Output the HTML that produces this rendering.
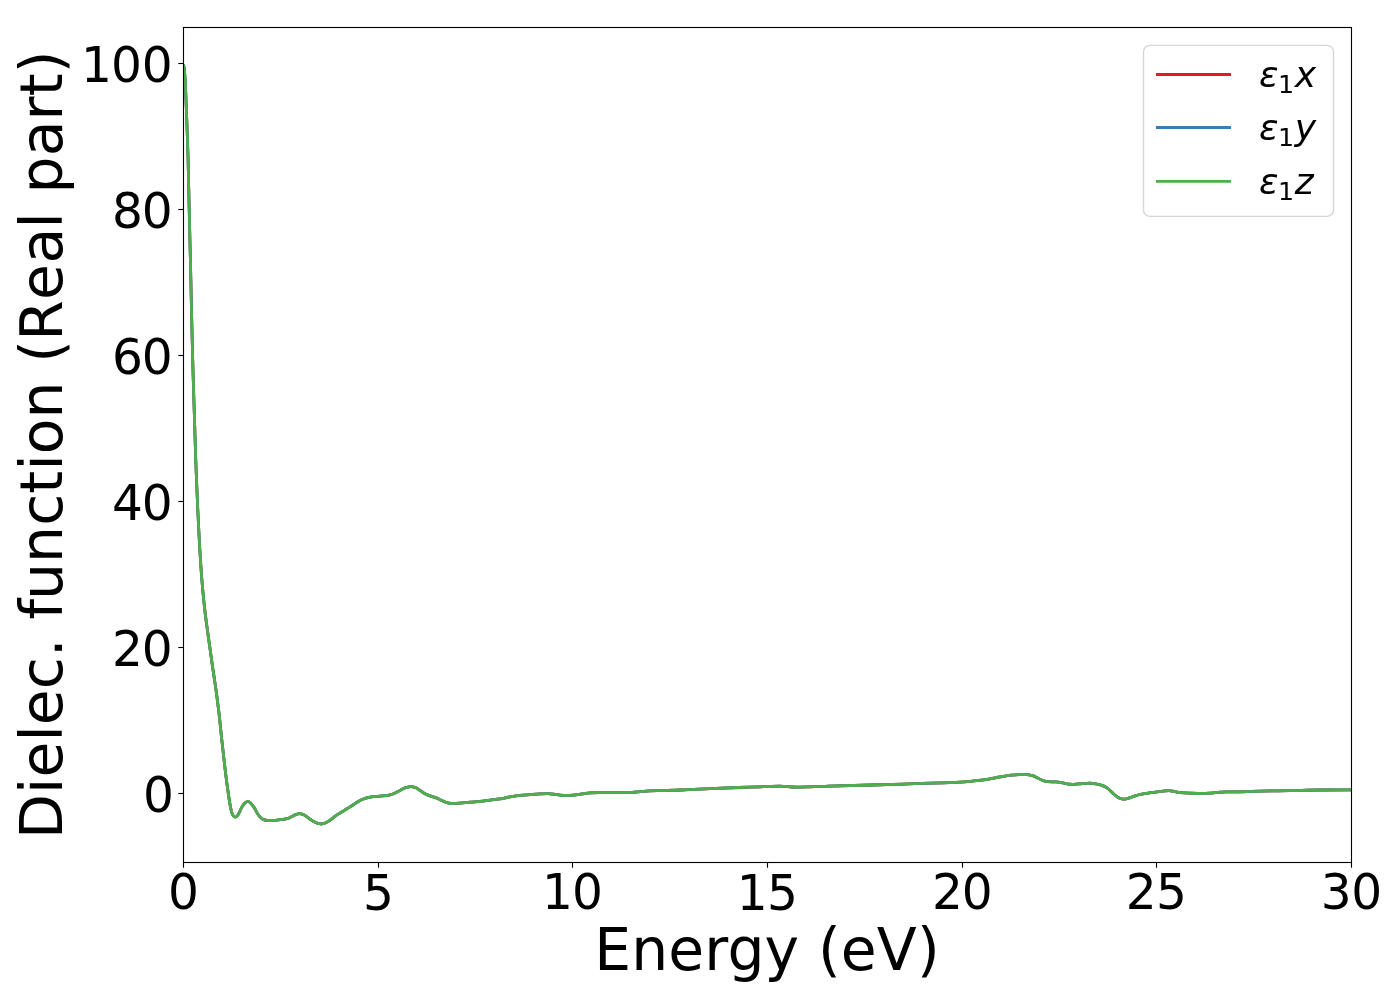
<!DOCTYPE html>
<html lang="en"><head><meta charset="utf-8"><title>Dielectric function (Real part)</title>
<style>
html,body{margin:0;padding:0;background:#fff;}
body{width:1400px;height:1000px;overflow:hidden;}
svg{display:block;}
text{font-family:"DejaVu Sans","Liberation Sans",sans-serif;fill:#000;}
.tk{font-size:49.95px;}
.lb{font-size:58.33px;letter-spacing:0.14px;}
.lg{font-size:36.11px;font-style:oblique;}
.sb{font-size:25.28px;font-style:normal;}
.sp{stroke:#000;stroke-width:1.11;fill:none;}
.ln{fill:none;stroke-width:2.78;stroke-linejoin:round;stroke-linecap:butt;}
</style></head><body>
<svg width="1400" height="1000" viewBox="0 0 1400 1000">
<rect x="0" y="0" width="1400" height="1000" fill="#fff"/>
<defs><clipPath id="ax"><rect x="183.5" y="27.5" width="1168" height="835"/></clipPath></defs>
<g clip-path="url(#ax)">
<path class="ln" stroke="#e41a1c" d="M182.2 65.15C182.74 65.15 183.46 65.22 183.6 65.3C184.29 65.67 184.4 69.76 184.6 72C184.99 76.31 185.18 80.66 185.4 85C185.81 93.33 186.08 101.67 186.4 110C186.72 118.33 187.02 126.67 187.3 135C187.58 143.33 187.88 151.67 188.1 160C188.54 176.66 188.82 193.33 189.2 210C189.58 226.67 190.02 243.33 190.4 260C190.78 276.67 191.12 293.33 191.5 310C191.88 326.67 192.26 343.33 192.7 360C193.14 376.67 193.69 393.33 194.2 410C194.71 426.67 195.16 443.34 195.75 460C196.34 476.67 197.03 493.34 197.8 510C198.57 526.67 199.4 543.35 200.45 560C200.97 568.34 201.59 576.68 202.3 585C203.01 593.34 203.86 601.68 204.8 610C205.67 617.68 206.75 625.34 207.8 633C208.12 635.33 208.47 637.67 208.8 640C209.98 648.33 211.1 656.67 212.3 665C213.5 673.34 214.85 681.66 216 690C217.14 698.32 218.24 706.66 219.2 715C220.16 723.32 220.89 731.67 221.8 740C222.34 745 222.93 750 223.5 755C224.26 761.67 224.97 768.34 225.8 775C226.51 780.67 227.28 786.34 228.1 792C228.73 796.34 229.31 800.69 230.1 805C230.55 807.48 230.97 810.03 231.7 812.4C232.07 813.6 232.57 815.06 233.3 815.9C233.77 816.44 234.71 817.2 235.4 817.2C236.04 817.2 236.81 816.42 237.3 815.9C238.15 815 238.67 813.58 239.3 812.4C240.26 810.6 240.96 808.62 242 806.9C242.85 805.49 243.78 803.82 245 802.9C245.84 802.26 247.11 801.4 248.1 801.4C248.93 801.4 249.8 802.39 250.5 803C251.86 804.19 252.95 805.86 254 807.4C255.29 809.3 256.24 811.46 257.5 813.4C258.28 814.6 259.05 815.87 260 816.9C260.86 817.83 261.89 818.94 263 819.4C264.18 819.89 265.65 820.29 267 820.4C268.31 820.51 269.67 820.6 271 820.6C273 820.6 275 820.29 277 820.1C279 819.91 281.01 819.7 283 819.4C284.68 819.15 286.41 818.87 288 818.4C289.39 817.99 290.67 817.07 292 816.4C293.33 815.73 294.61 814.84 296 814.4C297.12 814.05 298.33 813.6 299.5 813.6C300.67 813.6 301.91 814.03 303 814.4C304.43 814.88 305.71 816.02 307 816.9C308.37 817.84 309.61 818.99 311 819.9C312.28 820.74 313.61 821.59 315 822.2C316.28 822.76 317.63 823.31 319 823.6C319.82 823.78 320.67 824 321.5 824C322.68 824 323.89 823.49 325 823.1C326.4 822.61 327.73 821.71 329 820.9C330.39 820.01 331.67 818.9 333 817.9C334.33 816.9 335.63 815.84 337 814.9C338.93 813.58 341 812.44 343 811.2C344.34 810.37 345.66 809.52 347 808.7C347.99 808.09 349.01 807.52 350 806.9C351.69 805.84 353.31 804.66 355 803.6C356.64 802.57 358.28 801.48 360 800.6C361.61 799.78 363.29 798.96 365 798.4C366.62 797.87 368.31 797.35 370 797.1C371.64 796.86 373.33 796.75 375 796.6C376.67 796.45 378.33 796.35 380 796.2C381.67 796.05 383.34 795.9 385 795.7C386.67 795.49 388.38 795.27 390 794.9C391.72 794.5 393.36 793.63 395 792.9C396.7 792.14 398.33 791.23 400 790.4C401.67 789.57 403.26 788.48 405 787.9C406.28 787.47 407.65 787.09 409 786.9C409.66 786.81 410.34 786.7 411 786.7C412.34 786.7 413.75 787.06 415 787.4C416.79 787.89 418.36 789.37 420 790.4C421.69 791.46 423.26 792.77 425 793.7C426.59 794.55 428.3 795.29 430 795.9C431.63 796.48 433.38 796.81 435 797.4C436.71 798.02 438.33 798.95 440 799.7C441.66 800.45 443.29 801.29 445 801.9C446.3 802.36 447.64 802.94 449 803.1C450.31 803.26 451.67 803.4 453 803.4C455.33 803.4 457.67 803.24 460 803.1C463.34 802.9 466.66 802.37 470 802.1C473.33 801.83 476.68 801.7 480 801.4C483.34 801.1 486.66 800.52 490 800.1C493.33 799.68 496.69 799.4 500 798.9C503.35 798.4 506.65 797.47 510 796.9C513.32 796.33 516.65 795.75 520 795.4C523.32 795.05 526.67 794.85 530 794.6C533.33 794.35 536.66 794.07 540 793.9C542.5 793.77 545 793.6 547.5 793.6C549.67 793.6 551.85 793.87 554 794.1C556.01 794.31 557.99 794.96 560 795.1C562.32 795.26 564.67 795.4 567 795.4C569.33 795.4 571.68 795.19 574 795C576.68 794.79 579.33 794.25 582 793.9C584.66 793.55 587.32 793.03 590 792.9C593.32 792.74 596.67 792.6 600 792.6C603.33 792.6 606.67 792.7 610 792.7C616.67 792.7 623.35 792.62 630 792.5C636.68 792.38 643.32 791.08 650 790.8C660.32 790.38 670.67 790.34 681 790C690.67 789.68 700.33 789.12 710 788.7C719.53 788.29 729.06 787.85 738.6 787.5C745.73 787.24 752.87 787.04 760 786.8C766.67 786.57 773.34 786.1 780 786.1C785.24 786.1 790.46 787.1 795.7 787.1C800.46 787.1 805.23 786.93 810 786.8C816.2 786.63 822.4 786.29 828.6 786.1C842.86 785.65 857.13 785.4 871.4 785C885.7 784.6 900 784.14 914.3 783.7C923.83 783.41 933.37 783.16 942.9 782.8C950.04 782.53 957.18 782.26 964.3 781.8C969.07 781.49 973.85 780.95 978.6 780.4C982.41 779.96 986.22 779.41 990 778.8C993.35 778.26 996.66 777.47 1000 776.9C1003.66 776.28 1007.32 775.57 1011 775.2C1013.66 774.94 1016.33 774.6 1019 774.6C1021.66 774.6 1024.36 774.6 1027 774.6C1028.85 774.6 1030.74 775.13 1032.5 775.6C1034.41 776.11 1036.16 777.35 1038 778.2C1039.99 779.12 1041.92 780.34 1044 780.9C1045.13 781.21 1046.32 781.52 1047.5 781.6C1050.3 781.79 1053.18 781.74 1056 781.9C1058.68 782.06 1061.33 782.76 1064 783.2C1066 783.53 1067.99 784.05 1070 784.2C1071.33 784.3 1072.67 784.4 1074 784.4C1076.67 784.4 1079.33 783.78 1082 783.6C1084.66 783.42 1087.34 783.2 1090 783.2C1092.01 783.2 1094.02 783.58 1096 783.9C1098.02 784.22 1100.08 784.75 1102 785.4C1103.73 785.99 1105.48 786.91 1107 787.9C1108.83 789.09 1110.32 790.91 1112 792.4C1113.33 793.58 1114.6 794.84 1116 795.9C1116.95 796.62 1117.93 797.45 1119 797.9C1120.39 798.49 1121.98 799.2 1123.5 799.2C1124.98 799.2 1126.53 798.74 1128 798.4C1130.39 797.84 1132.63 796.6 1135 795.9C1137.63 795.12 1140.31 794.43 1143 793.9C1145.64 793.38 1148.33 792.98 1151 792.6C1153.66 792.22 1156.33 791.92 1159 791.6C1161 791.36 1162.99 791.04 1165 790.9C1166.33 790.81 1167.67 790.7 1169 790.7C1170.34 790.7 1171.67 791 1173 791.2C1175.35 791.55 1177.65 792.37 1180 792.6C1183.3 792.92 1186.66 793.08 1190 793.2C1194 793.34 1198 793.5 1202 793.5C1205 793.5 1208.01 793.28 1211 793.1C1214.01 792.91 1216.99 792.42 1220 792.2C1222.33 792.03 1224.66 791.8 1227 791.8C1231.33 791.8 1235.67 791.8 1240 791.8C1246.67 791.8 1253.33 791.25 1260 791.1C1270 790.87 1280 790.78 1290 790.6C1300 790.42 1310 790.1 1320 790C1330.5 789.9 1341 789.8 1351.5 789.8"/>
<path class="ln" stroke="#377eb8" d="M182.2 65.15C182.74 65.15 183.46 65.22 183.6 65.3C184.29 65.67 184.4 69.76 184.6 72C184.99 76.31 185.18 80.66 185.4 85C185.81 93.33 186.08 101.67 186.4 110C186.72 118.33 187.02 126.67 187.3 135C187.58 143.33 187.88 151.67 188.1 160C188.54 176.66 188.82 193.33 189.2 210C189.58 226.67 190.02 243.33 190.4 260C190.78 276.67 191.12 293.33 191.5 310C191.88 326.67 192.26 343.33 192.7 360C193.14 376.67 193.69 393.33 194.2 410C194.71 426.67 195.16 443.34 195.75 460C196.34 476.67 197.03 493.34 197.8 510C198.57 526.67 199.4 543.35 200.45 560C200.97 568.34 201.59 576.68 202.3 585C203.01 593.34 203.86 601.68 204.8 610C205.67 617.68 206.75 625.34 207.8 633C208.12 635.33 208.47 637.67 208.8 640C209.98 648.33 211.1 656.67 212.3 665C213.5 673.34 214.85 681.66 216 690C217.14 698.32 218.24 706.66 219.2 715C220.16 723.32 220.89 731.67 221.8 740C222.34 745 222.93 750 223.5 755C224.26 761.67 224.97 768.34 225.8 775C226.51 780.67 227.28 786.34 228.1 792C228.73 796.34 229.31 800.69 230.1 805C230.55 807.48 230.97 810.03 231.7 812.4C232.07 813.6 232.57 815.06 233.3 815.9C233.77 816.44 234.71 817.2 235.4 817.2C236.04 817.2 236.81 816.42 237.3 815.9C238.15 815 238.67 813.58 239.3 812.4C240.26 810.6 240.96 808.62 242 806.9C242.85 805.49 243.78 803.82 245 802.9C245.84 802.26 247.11 801.4 248.1 801.4C248.93 801.4 249.8 802.39 250.5 803C251.86 804.19 252.95 805.86 254 807.4C255.29 809.3 256.24 811.46 257.5 813.4C258.28 814.6 259.05 815.87 260 816.9C260.86 817.83 261.89 818.94 263 819.4C264.18 819.89 265.65 820.29 267 820.4C268.31 820.51 269.67 820.6 271 820.6C273 820.6 275 820.29 277 820.1C279 819.91 281.01 819.7 283 819.4C284.68 819.15 286.41 818.87 288 818.4C289.39 817.99 290.67 817.07 292 816.4C293.33 815.73 294.61 814.84 296 814.4C297.12 814.05 298.33 813.6 299.5 813.6C300.67 813.6 301.91 814.03 303 814.4C304.43 814.88 305.71 816.02 307 816.9C308.37 817.84 309.61 818.99 311 819.9C312.28 820.74 313.61 821.59 315 822.2C316.28 822.76 317.63 823.31 319 823.6C319.82 823.78 320.67 824 321.5 824C322.68 824 323.89 823.49 325 823.1C326.4 822.61 327.73 821.71 329 820.9C330.39 820.01 331.67 818.9 333 817.9C334.33 816.9 335.63 815.84 337 814.9C338.93 813.58 341 812.44 343 811.2C344.34 810.37 345.66 809.52 347 808.7C347.99 808.09 349.01 807.52 350 806.9C351.69 805.84 353.31 804.66 355 803.6C356.64 802.57 358.28 801.48 360 800.6C361.61 799.78 363.29 798.96 365 798.4C366.62 797.87 368.31 797.35 370 797.1C371.64 796.86 373.33 796.75 375 796.6C376.67 796.45 378.33 796.35 380 796.2C381.67 796.05 383.34 795.9 385 795.7C386.67 795.49 388.38 795.27 390 794.9C391.72 794.5 393.36 793.63 395 792.9C396.7 792.14 398.33 791.23 400 790.4C401.67 789.57 403.26 788.48 405 787.9C406.28 787.47 407.65 787.09 409 786.9C409.66 786.81 410.34 786.7 411 786.7C412.34 786.7 413.75 787.06 415 787.4C416.79 787.89 418.36 789.37 420 790.4C421.69 791.46 423.26 792.77 425 793.7C426.59 794.55 428.3 795.29 430 795.9C431.63 796.48 433.38 796.81 435 797.4C436.71 798.02 438.33 798.95 440 799.7C441.66 800.45 443.29 801.29 445 801.9C446.3 802.36 447.64 802.94 449 803.1C450.31 803.26 451.67 803.4 453 803.4C455.33 803.4 457.67 803.24 460 803.1C463.34 802.9 466.66 802.37 470 802.1C473.33 801.83 476.68 801.7 480 801.4C483.34 801.1 486.66 800.52 490 800.1C493.33 799.68 496.69 799.4 500 798.9C503.35 798.4 506.65 797.47 510 796.9C513.32 796.33 516.65 795.75 520 795.4C523.32 795.05 526.67 794.85 530 794.6C533.33 794.35 536.66 794.07 540 793.9C542.5 793.77 545 793.6 547.5 793.6C549.67 793.6 551.85 793.87 554 794.1C556.01 794.31 557.99 794.96 560 795.1C562.32 795.26 564.67 795.4 567 795.4C569.33 795.4 571.68 795.19 574 795C576.68 794.79 579.33 794.25 582 793.9C584.66 793.55 587.32 793.03 590 792.9C593.32 792.74 596.67 792.6 600 792.6C603.33 792.6 606.67 792.7 610 792.7C616.67 792.7 623.35 792.62 630 792.5C636.68 792.38 643.32 791.08 650 790.8C660.32 790.38 670.67 790.34 681 790C690.67 789.68 700.33 789.12 710 788.7C719.53 788.29 729.06 787.85 738.6 787.5C745.73 787.24 752.87 787.04 760 786.8C766.67 786.57 773.34 786.1 780 786.1C785.24 786.1 790.46 787.1 795.7 787.1C800.46 787.1 805.23 786.93 810 786.8C816.2 786.63 822.4 786.29 828.6 786.1C842.86 785.65 857.13 785.4 871.4 785C885.7 784.6 900 784.14 914.3 783.7C923.83 783.41 933.37 783.16 942.9 782.8C950.04 782.53 957.18 782.26 964.3 781.8C969.07 781.49 973.85 780.95 978.6 780.4C982.41 779.96 986.22 779.41 990 778.8C993.35 778.26 996.66 777.47 1000 776.9C1003.66 776.28 1007.32 775.57 1011 775.2C1013.66 774.94 1016.33 774.6 1019 774.6C1021.66 774.6 1024.36 774.6 1027 774.6C1028.85 774.6 1030.74 775.13 1032.5 775.6C1034.41 776.11 1036.16 777.35 1038 778.2C1039.99 779.12 1041.92 780.34 1044 780.9C1045.13 781.21 1046.32 781.52 1047.5 781.6C1050.3 781.79 1053.18 781.74 1056 781.9C1058.68 782.06 1061.33 782.76 1064 783.2C1066 783.53 1067.99 784.05 1070 784.2C1071.33 784.3 1072.67 784.4 1074 784.4C1076.67 784.4 1079.33 783.78 1082 783.6C1084.66 783.42 1087.34 783.2 1090 783.2C1092.01 783.2 1094.02 783.58 1096 783.9C1098.02 784.22 1100.08 784.75 1102 785.4C1103.73 785.99 1105.48 786.91 1107 787.9C1108.83 789.09 1110.32 790.91 1112 792.4C1113.33 793.58 1114.6 794.84 1116 795.9C1116.95 796.62 1117.93 797.45 1119 797.9C1120.39 798.49 1121.98 799.2 1123.5 799.2C1124.98 799.2 1126.53 798.74 1128 798.4C1130.39 797.84 1132.63 796.6 1135 795.9C1137.63 795.12 1140.31 794.43 1143 793.9C1145.64 793.38 1148.33 792.98 1151 792.6C1153.66 792.22 1156.33 791.92 1159 791.6C1161 791.36 1162.99 791.04 1165 790.9C1166.33 790.81 1167.67 790.7 1169 790.7C1170.34 790.7 1171.67 791 1173 791.2C1175.35 791.55 1177.65 792.37 1180 792.6C1183.3 792.92 1186.66 793.08 1190 793.2C1194 793.34 1198 793.5 1202 793.5C1205 793.5 1208.01 793.28 1211 793.1C1214.01 792.91 1216.99 792.42 1220 792.2C1222.33 792.03 1224.66 791.8 1227 791.8C1231.33 791.8 1235.67 791.8 1240 791.8C1246.67 791.8 1253.33 791.25 1260 791.1C1270 790.87 1280 790.78 1290 790.6C1300 790.42 1310 790.1 1320 790C1330.5 789.9 1341 789.8 1351.5 789.8"/>
<path class="ln" stroke="#4daf4a" d="M182.2 65.15C182.74 65.15 183.46 65.22 183.6 65.3C184.29 65.67 184.4 69.76 184.6 72C184.99 76.31 185.18 80.66 185.4 85C185.81 93.33 186.08 101.67 186.4 110C186.72 118.33 187.02 126.67 187.3 135C187.58 143.33 187.88 151.67 188.1 160C188.54 176.66 188.82 193.33 189.2 210C189.58 226.67 190.02 243.33 190.4 260C190.78 276.67 191.12 293.33 191.5 310C191.88 326.67 192.26 343.33 192.7 360C193.14 376.67 193.69 393.33 194.2 410C194.71 426.67 195.16 443.34 195.75 460C196.34 476.67 197.03 493.34 197.8 510C198.57 526.67 199.4 543.35 200.45 560C200.97 568.34 201.59 576.68 202.3 585C203.01 593.34 203.86 601.68 204.8 610C205.67 617.68 206.75 625.34 207.8 633C208.12 635.33 208.47 637.67 208.8 640C209.98 648.33 211.1 656.67 212.3 665C213.5 673.34 214.85 681.66 216 690C217.14 698.32 218.24 706.66 219.2 715C220.16 723.32 220.89 731.67 221.8 740C222.34 745 222.93 750 223.5 755C224.26 761.67 224.97 768.34 225.8 775C226.51 780.67 227.28 786.34 228.1 792C228.73 796.34 229.31 800.69 230.1 805C230.55 807.48 230.97 810.03 231.7 812.4C232.07 813.6 232.57 815.06 233.3 815.9C233.77 816.44 234.71 817.2 235.4 817.2C236.04 817.2 236.81 816.42 237.3 815.9C238.15 815 238.67 813.58 239.3 812.4C240.26 810.6 240.96 808.62 242 806.9C242.85 805.49 243.78 803.82 245 802.9C245.84 802.26 247.11 801.4 248.1 801.4C248.93 801.4 249.8 802.39 250.5 803C251.86 804.19 252.95 805.86 254 807.4C255.29 809.3 256.24 811.46 257.5 813.4C258.28 814.6 259.05 815.87 260 816.9C260.86 817.83 261.89 818.94 263 819.4C264.18 819.89 265.65 820.29 267 820.4C268.31 820.51 269.67 820.6 271 820.6C273 820.6 275 820.29 277 820.1C279 819.91 281.01 819.7 283 819.4C284.68 819.15 286.41 818.87 288 818.4C289.39 817.99 290.67 817.07 292 816.4C293.33 815.73 294.61 814.84 296 814.4C297.12 814.05 298.33 813.6 299.5 813.6C300.67 813.6 301.91 814.03 303 814.4C304.43 814.88 305.71 816.02 307 816.9C308.37 817.84 309.61 818.99 311 819.9C312.28 820.74 313.61 821.59 315 822.2C316.28 822.76 317.63 823.31 319 823.6C319.82 823.78 320.67 824 321.5 824C322.68 824 323.89 823.49 325 823.1C326.4 822.61 327.73 821.71 329 820.9C330.39 820.01 331.67 818.9 333 817.9C334.33 816.9 335.63 815.84 337 814.9C338.93 813.58 341 812.44 343 811.2C344.34 810.37 345.66 809.52 347 808.7C347.99 808.09 349.01 807.52 350 806.9C351.69 805.84 353.31 804.66 355 803.6C356.64 802.57 358.28 801.48 360 800.6C361.61 799.78 363.29 798.96 365 798.4C366.62 797.87 368.31 797.35 370 797.1C371.64 796.86 373.33 796.75 375 796.6C376.67 796.45 378.33 796.35 380 796.2C381.67 796.05 383.34 795.9 385 795.7C386.67 795.49 388.38 795.27 390 794.9C391.72 794.5 393.36 793.63 395 792.9C396.7 792.14 398.33 791.23 400 790.4C401.67 789.57 403.26 788.48 405 787.9C406.28 787.47 407.65 787.09 409 786.9C409.66 786.81 410.34 786.7 411 786.7C412.34 786.7 413.75 787.06 415 787.4C416.79 787.89 418.36 789.37 420 790.4C421.69 791.46 423.26 792.77 425 793.7C426.59 794.55 428.3 795.29 430 795.9C431.63 796.48 433.38 796.81 435 797.4C436.71 798.02 438.33 798.95 440 799.7C441.66 800.45 443.29 801.29 445 801.9C446.3 802.36 447.64 802.94 449 803.1C450.31 803.26 451.67 803.4 453 803.4C455.33 803.4 457.67 803.24 460 803.1C463.34 802.9 466.66 802.37 470 802.1C473.33 801.83 476.68 801.7 480 801.4C483.34 801.1 486.66 800.52 490 800.1C493.33 799.68 496.69 799.4 500 798.9C503.35 798.4 506.65 797.47 510 796.9C513.32 796.33 516.65 795.75 520 795.4C523.32 795.05 526.67 794.85 530 794.6C533.33 794.35 536.66 794.07 540 793.9C542.5 793.77 545 793.6 547.5 793.6C549.67 793.6 551.85 793.87 554 794.1C556.01 794.31 557.99 794.96 560 795.1C562.32 795.26 564.67 795.4 567 795.4C569.33 795.4 571.68 795.19 574 795C576.68 794.79 579.33 794.25 582 793.9C584.66 793.55 587.32 793.03 590 792.9C593.32 792.74 596.67 792.6 600 792.6C603.33 792.6 606.67 792.7 610 792.7C616.67 792.7 623.35 792.62 630 792.5C636.68 792.38 643.32 791.08 650 790.8C660.32 790.38 670.67 790.34 681 790C690.67 789.68 700.33 789.12 710 788.7C719.53 788.29 729.06 787.85 738.6 787.5C745.73 787.24 752.87 787.04 760 786.8C766.67 786.57 773.34 786.1 780 786.1C785.24 786.1 790.46 787.1 795.7 787.1C800.46 787.1 805.23 786.93 810 786.8C816.2 786.63 822.4 786.29 828.6 786.1C842.86 785.65 857.13 785.4 871.4 785C885.7 784.6 900 784.14 914.3 783.7C923.83 783.41 933.37 783.16 942.9 782.8C950.04 782.53 957.18 782.26 964.3 781.8C969.07 781.49 973.85 780.95 978.6 780.4C982.41 779.96 986.22 779.41 990 778.8C993.35 778.26 996.66 777.47 1000 776.9C1003.66 776.28 1007.32 775.57 1011 775.2C1013.66 774.94 1016.33 774.6 1019 774.6C1021.66 774.6 1024.36 774.6 1027 774.6C1028.85 774.6 1030.74 775.13 1032.5 775.6C1034.41 776.11 1036.16 777.35 1038 778.2C1039.99 779.12 1041.92 780.34 1044 780.9C1045.13 781.21 1046.32 781.52 1047.5 781.6C1050.3 781.79 1053.18 781.74 1056 781.9C1058.68 782.06 1061.33 782.76 1064 783.2C1066 783.53 1067.99 784.05 1070 784.2C1071.33 784.3 1072.67 784.4 1074 784.4C1076.67 784.4 1079.33 783.78 1082 783.6C1084.66 783.42 1087.34 783.2 1090 783.2C1092.01 783.2 1094.02 783.58 1096 783.9C1098.02 784.22 1100.08 784.75 1102 785.4C1103.73 785.99 1105.48 786.91 1107 787.9C1108.83 789.09 1110.32 790.91 1112 792.4C1113.33 793.58 1114.6 794.84 1116 795.9C1116.95 796.62 1117.93 797.45 1119 797.9C1120.39 798.49 1121.98 799.2 1123.5 799.2C1124.98 799.2 1126.53 798.74 1128 798.4C1130.39 797.84 1132.63 796.6 1135 795.9C1137.63 795.12 1140.31 794.43 1143 793.9C1145.64 793.38 1148.33 792.98 1151 792.6C1153.66 792.22 1156.33 791.92 1159 791.6C1161 791.36 1162.99 791.04 1165 790.9C1166.33 790.81 1167.67 790.7 1169 790.7C1170.34 790.7 1171.67 791 1173 791.2C1175.35 791.55 1177.65 792.37 1180 792.6C1183.3 792.92 1186.66 793.08 1190 793.2C1194 793.34 1198 793.5 1202 793.5C1205 793.5 1208.01 793.28 1211 793.1C1214.01 792.91 1216.99 792.42 1220 792.2C1222.33 792.03 1224.66 791.8 1227 791.8C1231.33 791.8 1235.67 791.8 1240 791.8C1246.67 791.8 1253.33 791.25 1260 791.1C1270 790.87 1280 790.78 1290 790.6C1300 790.42 1310 790.1 1320 790C1330.5 789.9 1341 789.8 1351.5 789.8"/>
</g>
<g class="sp">
<line x1="183.5" y1="862.5" x2="183.5" y2="867.7"/>
<line x1="378.5" y1="862.5" x2="378.5" y2="867.7"/>
<line x1="572.5" y1="862.5" x2="572.5" y2="867.7"/>
<line x1="767.5" y1="862.5" x2="767.5" y2="867.7"/>
<line x1="962.5" y1="862.5" x2="962.5" y2="867.7"/>
<line x1="1156.5" y1="862.5" x2="1156.5" y2="867.7"/>
<line x1="1351.5" y1="862.5" x2="1351.5" y2="867.7"/>
<line x1="178.3" y1="793.5" x2="183.5" y2="793.5"/>
<line x1="178.3" y1="647.5" x2="183.5" y2="647.5"/>
<line x1="178.3" y1="501.5" x2="183.5" y2="501.5"/>
<line x1="178.3" y1="355.5" x2="183.5" y2="355.5"/>
<line x1="178.3" y1="209.5" x2="183.5" y2="209.5"/>
<line x1="178.3" y1="63.5" x2="183.5" y2="63.5"/>
</g>
<g class="tk" text-anchor="middle" transform="scale(0.9732 1)">
<text x="188.55" y="909">0</text>
<text x="388.79" y="910">5</text>
<text x="588.15" y="909" dx="0 -0.92">10</text>
<text x="788.53" y="910" dx="0 -0.62">15</text>
<text x="988.87" y="909" dx="0 -1.03">20</text>
<text x="1188.18" y="909" dx="0 -0.82">25</text>
<text x="1388.72" y="909" dx="0 -0.62">30</text>
</g>
<g class="tk" text-anchor="end" transform="scale(0.9732 1)">
<text x="178.69" y="811.95">0</text>
<text x="177.56" y="665.93" dx="0 -1.13">20</text>
<text x="177.56" y="519.91" dx="0 -1.13">40</text>
<text x="177.56" y="373.89" dx="0 -1.13">60</text>
<text x="177.56" y="227.87" dx="0 -1.13">80</text>
<text x="177.56" y="81.85" dx="0 -1.13 0">100</text>
</g>
<text class="lb" text-anchor="middle" x="767" y="969.9">Energy (eV)</text>
<text class="lb" text-anchor="middle" transform="translate(62 444.7) rotate(-90)" dx="0 0 0 0 0 0 0 0 0 -1.2 0 0 0 0 0 0 0 0 -1 2.7 0.4 -0.9 0 0 0 0 0 0">Dielec. function (Real part)</text>
<rect class="sp" x="183.5" y="27.5" width="1168" height="835" stroke-linejoin="miter"/>
<rect x="1143.5" y="45.4" width="190" height="171" rx="6.5" ry="6.5" fill="#fff" fill-opacity="0.8" stroke="#ccc" stroke-opacity="0.8" stroke-width="1.39"/>
<line x1="1157.4" y1="74.5" x2="1229.6" y2="74.5" stroke="#e41a1c" stroke-width="2.78" stroke-linecap="square"/>
<text class="lg"><tspan x="1259" y="86.75">ε</tspan><tspan class="sb" x="1278" y="92.68">1</tspan><tspan x="1294.8" y="86.75">x</tspan></text>
<line x1="1157.4" y1="127.5" x2="1229.6" y2="127.5" stroke="#377eb8" stroke-width="2.78" stroke-linecap="square"/>
<text class="lg"><tspan x="1259" y="139.85">ε</tspan><tspan class="sb" x="1278" y="145.78">1</tspan><tspan x="1294.8" y="139.85">y</tspan></text>
<line x1="1157.4" y1="181.4" x2="1229.6" y2="181.4" stroke="#4daf4a" stroke-width="2.78" stroke-linecap="square"/>
<text class="lg"><tspan x="1259" y="193.8">ε</tspan><tspan class="sb" x="1278" y="199.73">1</tspan><tspan x="1294.8" y="193.8">z</tspan></text>
</svg>
</body></html>
